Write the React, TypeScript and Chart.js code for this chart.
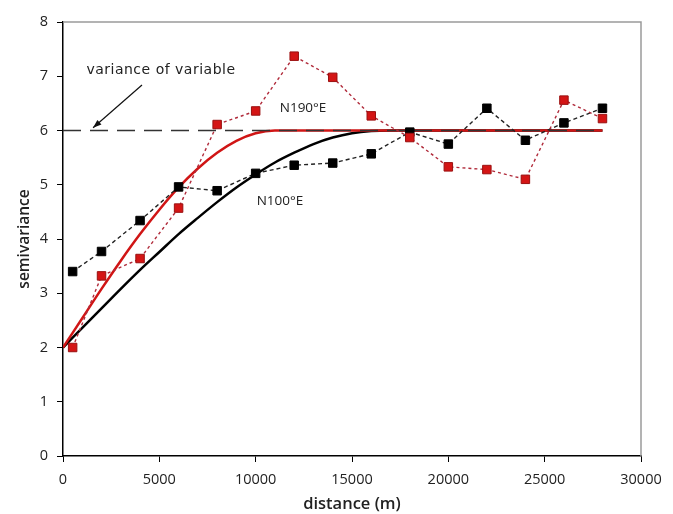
import React, { useEffect, useRef } from "react";
import { Chart, registerables } from "chart.js";

Chart.register(...registerables);

// ---- data ----
const lagDistances = [500, 2000, 4000, 6000, 8000, 10000, 12000, 14000, 16000, 18000, 20000, 22000, 24000, 26000, 28000];
const n100Experimental = [3.40, 3.77, 4.34, 4.96, 4.89, 5.21, 5.36, 5.40, 5.57, 5.97, 5.75, 6.41, 5.82, 6.14, 6.41];
const n190Experimental = [2.00, 3.32, 3.64, 4.57, 6.11, 6.36, 7.37, 6.98, 6.27, 5.87, 5.33, 5.28, 5.10, 6.56, 6.22];

const n190ModelX = [0, 1000, 2000, 3000, 4000, 5000, 6000, 7000, 8000, 9000, 10000, 11000, 28000];
const n190ModelY = [2.0, 2.54, 3.08, 3.60, 4.09, 4.54, 4.95, 5.30, 5.59, 5.81, 5.95, 6.0, 6.0];

const n100ModelX = [0, 1000, 2000, 3000, 4000, 5000, 6000, 7000, 8000, 9000, 10000, 11000, 12000, 13000, 14000, 15000, 16000, 17000, 28000];
const n100ModelY = [2.0, 2.36, 2.72, 3.08, 3.43, 3.76, 4.09, 4.39, 4.68, 4.95, 5.19, 5.41, 5.59, 5.75, 5.87, 5.95, 5.99, 6.0, 6.0];

const varianceX = [0, 28000];
const varianceY = [6, 6];

const xTicks = [0, 5000, 10000, 15000, 20000, 25000, 30000];
const yTicks = [0, 1, 2, 3, 4, 5, 6, 7, 8];

// annotation anchors (data space)
const varianceLabel = { text: "variance of variable", x: 1215, y: 7.11 };
const arrowFrom = { x: 4100, y: 6.84 };
const arrowTo = { x: 1560, y: 6.05 };
const n190Label = { text: "N190°E", x: 11250, y: 6.41 };
const n100Label = { text: "N100°E", x: 10050, y: 4.69 };

const toPts = (xs: number[], ys: number[]) => xs.map((x, i) => ({ x, y: ys[i] }));

const annotationPlugin = {
  id: "annots",
  afterDatasetsDraw(chart: any) {
    const { ctx, chartArea, scales } = chart;
    const xs = scales.x;
    const ys = scales.y;
    ctx.save();
    // frame top & right
    ctx.strokeStyle = "#9a9a9a";
    ctx.lineWidth = 1.5;
    ctx.beginPath();
    ctx.moveTo(chartArea.left, chartArea.top);
    ctx.lineTo(chartArea.right, chartArea.top);
    ctx.lineTo(chartArea.right, chartArea.bottom);
    ctx.stroke();

    ctx.fillStyle = "#222";
    ctx.textBaseline = "middle";
    ctx.textAlign = "left";
    ctx.font = "14px 'DejaVu Sans'";
    try { (ctx as any).letterSpacing = "0.5px"; } catch (e) {}
    ctx.fillText(varianceLabel.text, xs.getPixelForValue(varianceLabel.x), ys.getPixelForValue(varianceLabel.y));
    try { (ctx as any).letterSpacing = "0px"; } catch (e) {}
    ctx.font = "13.5px 'Open Sans'";
    ctx.fillText(n190Label.text, xs.getPixelForValue(n190Label.x), ys.getPixelForValue(n190Label.y));
    ctx.fillText(n100Label.text, xs.getPixelForValue(n100Label.x), ys.getPixelForValue(n100Label.y));

    // arrow
    const x1 = xs.getPixelForValue(arrowFrom.x), y1 = ys.getPixelForValue(arrowFrom.y);
    const x2 = xs.getPixelForValue(arrowTo.x), y2 = ys.getPixelForValue(arrowTo.y);
    ctx.strokeStyle = "#111";
    ctx.lineWidth = 1.2;
    ctx.beginPath();
    ctx.moveTo(x1, y1);
    ctx.lineTo(x2, y2);
    ctx.stroke();
    const ang = Math.atan2(y2 - y1, x2 - x1);
    const hl = 9;
    ctx.fillStyle = "#111";
    ctx.beginPath();
    ctx.moveTo(x2, y2);
    ctx.lineTo(x2 - hl * Math.cos(ang - 0.35), y2 - hl * Math.sin(ang - 0.35));
    ctx.lineTo(x2 - hl * Math.cos(ang + 0.35), y2 - hl * Math.sin(ang + 0.35));
    ctx.closePath();
    ctx.fill();
    ctx.restore();
  },
};

export default function App() {
  const ref = useRef<HTMLCanvasElement | null>(null);
  useEffect(() => {
    if (!ref.current) return;
    const chart = new Chart(ref.current, {
      type: "scatter",
      data: {
        datasets: [
          {
            label: "N100 exp",
            data: toPts(lagDistances, n100Experimental),
            showLine: true,
            borderColor: "#222",
            borderWidth: 1.4,
            borderDash: [4, 3],
            pointStyle: "rect",
            pointRadius: 6,
            pointBackgroundColor: "#000",
            pointBorderColor: "#000",
            pointBorderWidth: 1,
            order: 1,
          },
          {
            label: "N190 exp",
            data: toPts(lagDistances, n190Experimental),
            showLine: true,
            borderColor: "#b02a3a",
            borderWidth: 1.4,
            borderDash: [3, 3],
            pointStyle: "rect",
            pointRadius: 6,
            pointBackgroundColor: "#d41515",
            pointBorderColor: "#9a1010",
            pointBorderWidth: 1,
            order: 0,
          },
          {
            label: "variance",
            data: toPts(varianceX, varianceY),
            showLine: true,
            borderColor: "#333",
            borderWidth: 1.4,
            borderDash: [18, 9],
            pointRadius: 0,
            order: 2,
          },
          {
            label: "N190 model",
            data: toPts(n190ModelX, n190ModelY),
            showLine: true,
            borderColor: "#d01515",
            borderWidth: 2.5,
            pointRadius: 0,
            cubicInterpolationMode: "monotone",
            order: 3,
          },
          {
            label: "N100 model",
            data: toPts(n100ModelX, n100ModelY),
            showLine: true,
            borderColor: "#000",
            borderWidth: 2.5,
            pointRadius: 0,
            cubicInterpolationMode: "monotone",
            order: 4,
          },
        ],
      },
      options: {
        responsive: false,
        animation: false,
        devicePixelRatio: 1,
        layout: { padding: { left: 0, right: 32, top: 22, bottom: 0 } },
        plugins: { legend: { display: false }, tooltip: { enabled: false } },
        scales: {
          x: {
            type: "linear",
            min: 0,
            max: 30000,
            afterBuildTicks: (s: any) => { s.ticks = xTicks.map((v) => ({ value: v })); },
            afterFit: (s: any) => { s.height = 58; },
            grid: { display: true, drawOnChartArea: false, drawTicks: true, tickLength: 6, color: "#000" },
            border: { display: true, color: "#000", width: 1.5 },
            ticks: {
              color: "#222",
              padding: 9,
              maxRotation: 0,
              font: { family: "'Open Sans'", size: 14.5 },
              callback: (v: any) => String(v),
            },
            title: {
              display: true,
              text: "distance (m)",
              color: "#222",
              padding: { top: 0, bottom: 0 },
              font: { family: "'Open Sans'", size: 16.5, weight: 600 },
            },
          },
          y: {
            type: "linear",
            min: 0,
            max: 8,
            afterBuildTicks: (s: any) => { s.ticks = yTicks.map((v) => ({ value: v })); },
            afterFit: (s: any) => { s.width = 63; },
            grid: { display: true, drawOnChartArea: false, drawTicks: true, tickLength: 6, color: "#000" },
            border: { display: true, color: "#000", width: 1.5 },
            ticks: { color: "#222", padding: 9, font: { family: "'Open Sans'", size: 14.5 }, callback: (v: any) => String(v) },
            title: {
              display: true,
              text: "semivariance",
              color: "#222",
              padding: { top: 15, bottom: 0 },
              font: { family: "'Open Sans'", size: 15.5, weight: 600 },
            },
          },
        },
      },
      plugins: [annotationPlugin],
    } as any);
    return () => chart.destroy();
  }, []);
  return (
    <div style={{ position: "fixed", left: 0, top: 0, width: 673, height: 514, background: "#fff" }}>
      <canvas ref={ref} width={673} height={514} />
    </div>
  );
}
